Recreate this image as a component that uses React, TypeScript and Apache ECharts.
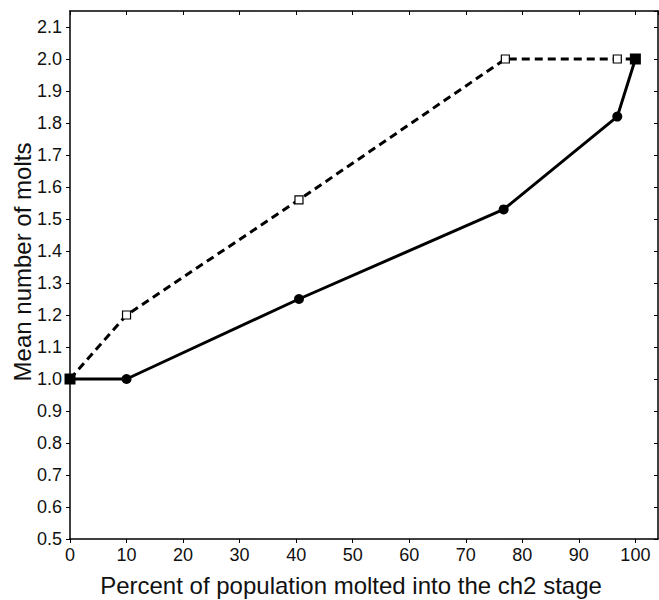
import React, { useEffect, useRef } from "react";
import * as echarts from "echarts";

const percentMolted = [0, 10, 40.5, 76.7, 96.8, 100];
const solidMolts = [1.0, 1.0, 1.25, 1.53, 1.82, 2.0];
const dashedX = [0, 10, 40.5, 77, 96.8, 100];
const dashedMolts = [1.0, 1.2, 1.56, 2.0, 2.0, 2.0];
const yTitle = "Mean number of molts";
const xTitle = "Percent of population molted into the ch2 stage";

const FONT = "Liberation Sans, Arial, Helvetica, sans-serif";

export default function App() {
  const ref = useRef<HTMLDivElement>(null);
  useEffect(() => {
    if (!ref.current) return;
    const chart = echarts.init(ref.current, null, { renderer: "svg" });
    const last = percentMolted.length - 1;
    const solidData = percentMolted.map((x, i) => {
      const end = i === 0 || i === last;
      return {
        value: [x, solidMolts[i]],
        symbol: end ? "rect" : "circle",
        symbolSize: end ? 11 : 10,
      };
    });
    const dashedData = dashedX.map((x, i) => {
      const end = i === 0 || i === last;
      return {
        value: [x, dashedMolts[i]],
        symbol: end ? "none" : "rect",
        symbolSize: 8,
      };
    });
    const axisLine = { show: true, onZero: false, lineStyle: { color: "#000", width: 1.5 } };
    chart.setOption({
      animation: false,
      grid: [{ left: 70, top: 11, width: 588, bottom: 61, containLabel: false }],
      xAxis: [
        {
          type: "value",
          min: 0,
          max: 104,
          interval: 10,
          axisLine,
          axisTick: { show: true, inside: false, length: 4, lineStyle: { color: "#000", width: 1 } },
          splitLine: { show: false },
          axisLabel: { color: "#111", fontSize: 18, fontFamily: FONT, margin: 7, showMaxLabel: false },
        },
        {
          type: "value",
          position: "top",
          min: 0,
          max: 104,
          interval: 10,
          axisLine,
          axisTick: { show: true, inside: true, length: 4, lineStyle: { color: "#000", width: 1 } },
          splitLine: { show: false },
          axisLabel: { show: false },
        },
      ],
      yAxis: [
        {
          type: "value",
          min: 0.5,
          max: 2.15,
          interval: 0.1,
          axisLine,
          axisTick: { show: true, inside: false, length: 4, lineStyle: { color: "#000", width: 1 } },
          splitLine: { show: false },
          axisLabel: {
            color: "#111",
            fontSize: 18,
            fontFamily: FONT,
            margin: 8,
            showMaxLabel: false,
            formatter: (v: number) => v.toFixed(1),
          },
        },
        {
          type: "value",
          position: "right",
          min: 0.5,
          max: 2.15,
          interval: 0.1,
          axisLine,
          axisTick: { show: true, inside: true, length: 4, lineStyle: { color: "#000", width: 1 } },
          splitLine: { show: false },
          axisLabel: { show: false },
        },
      ],
      series: [
        {
          type: "line",
          data: dashedData,
          xAxisIndex: 0,
          yAxisIndex: 0,
          lineStyle: { color: "#000", width: 3, type: [8, 5] },
          itemStyle: { color: "#fff", borderColor: "#000", borderWidth: 1.2 },
          z: 2,
        },
        {
          type: "line",
          data: solidData,
          xAxisIndex: 0,
          yAxisIndex: 0,
          lineStyle: { color: "#000", width: 3 },
          itemStyle: { color: "#000", borderColor: "#000", borderWidth: 0 },
          z: 3,
        },
      ],
      graphic: [
        {
          type: "text",
          x: 22,
          y: 262,
          rotation: Math.PI / 2,
          style: {
            text: yTitle,
            fill: "#111",
            font: `24px ${FONT}`,
            align: "center",
            verticalAlign: "middle",
          },
        },
        {
          type: "text",
          x: 351,
          y: 585,
          style: {
            text: xTitle,
            fill: "#111",
            font: `24px ${FONT}`,
            align: "center",
            verticalAlign: "middle",
          },
        },
      ],
    });
    return () => chart.dispose();
  }, []);
  return <div ref={ref} style={{ width: 659, height: 600, position: "absolute", left: 0, top: 0 }} />;
}
